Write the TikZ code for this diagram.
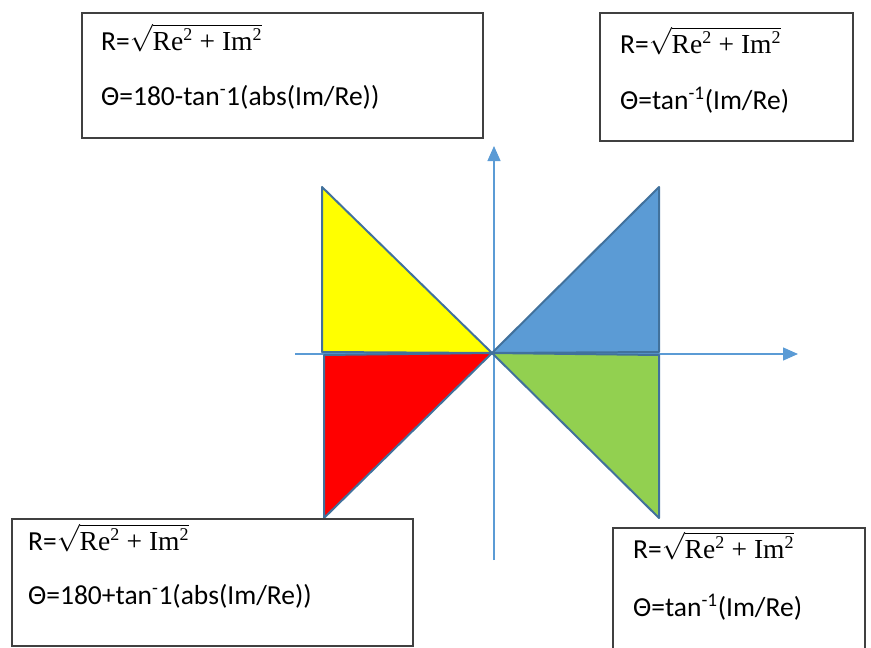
\RequirePackage{fix-cm}
\documentclass[tikz,border=0pt]{standalone}
\usepackage[no-math]{fontspec}
\setmainfont{Carlito}
\newfontfamily\serifmath{Liberation Serif}
\usetikzlibrary{arrows.meta}
\definecolor{axisblue}{HTML}{5B9BD5}
\definecolor{edgeblue}{HTML}{41719C}
\definecolor{qyellow}{HTML}{FFFF00}
\definecolor{qblue}{HTML}{5B9BD5}
\definecolor{qred}{HTML}{FF0000}
\definecolor{qgreen}{HTML}{92D050}
\definecolor{boxgray}{HTML}{404040}
\newcommand{\supsmall}{\hbox{\serifmath\fontsize{18}{20}\selectfont 2}}
\newcommand{\radius}{R=$\sqrt{\hbox{\serifmath Re$^{\supsmall}$ + Im$^{\supsmall}$}}$}
\tikzset{
  infobox/.style={draw=boxgray, line width=1.5pt, fill=white},
  axisline/.style={draw=axisblue, line width=1.3pt, -{Triangle[length=15pt,width=13pt]}},
  tri/.style={draw=edgeblue, line width=2pt, line join=round},
  txt/.style={anchor=base west, inner sep=0pt, font=\fontsize{27.5}{32}\selectfont},
}
\begin{document}
\begin{tikzpicture}[x=1pt,y=-1pt]
\useasboundingbox (0,0) rectangle (871,648);
% axes
\coordinate (xstart) at (295,354);
\coordinate (xend) at (798,354);
\coordinate (ystart) at (494,560);
\coordinate (yend) at (494,146);
\draw[axisline] (xstart) -- (xend);
\draw[axisline] (ystart) -- (yend);
% triangles
\coordinate (o) at (492,353);
\coordinate (ytop) at (322,187);
\coordinate (ybot) at (322,352);
\coordinate (btop) at (659,187);
\coordinate (bbot) at (659,352);
\coordinate (rtop) at (324,355);
\coordinate (rbot) at (324,518);
\coordinate (gtop) at (659,355);
\coordinate (gbot) at (659,518);
\filldraw[tri, fill=qyellow] (ytop) -- (ybot) -- (o) -- cycle;
\filldraw[tri, fill=qblue] (btop) -- (bbot) -- (o) -- cycle;
\filldraw[tri, fill=qred] (rtop) -- (rbot) -- (o) -- cycle;
\filldraw[tri, fill=qgreen] (gtop) -- (gbot) -- (o) -- cycle;
% boxes
\draw[infobox] (82,13) rectangle (483,138);
\draw[infobox] (600,13) rectangle (853,141);
\draw[infobox] (12,519) rectangle (413,646);
\draw[infobox] (613,528) rectangle (865,650);
% texts
\node[txt] (r1) at (101,50) {\radius};
\node[txt] (t1) at (101,105) {Θ=180-tan\textsuperscript{-}1(abs(Im/Re))};
\node[txt] (r2) at (620,53) {\radius};
\node[txt] (t2) at (620,109) {Θ=tan\textsuperscript{-1}(Im/Re)};
\node[txt] (r3) at (28,550) {\radius};
\node[txt] (t3) at (28,604) {Θ=180+tan\textsuperscript{-}1(abs(Im/Re))};
\node[txt] (r4) at (633,558) {\radius};
\node[txt] (t4) at (633,616) {Θ=tan\textsuperscript{-1}(Im/Re)};
\end{tikzpicture}
\end{document}
